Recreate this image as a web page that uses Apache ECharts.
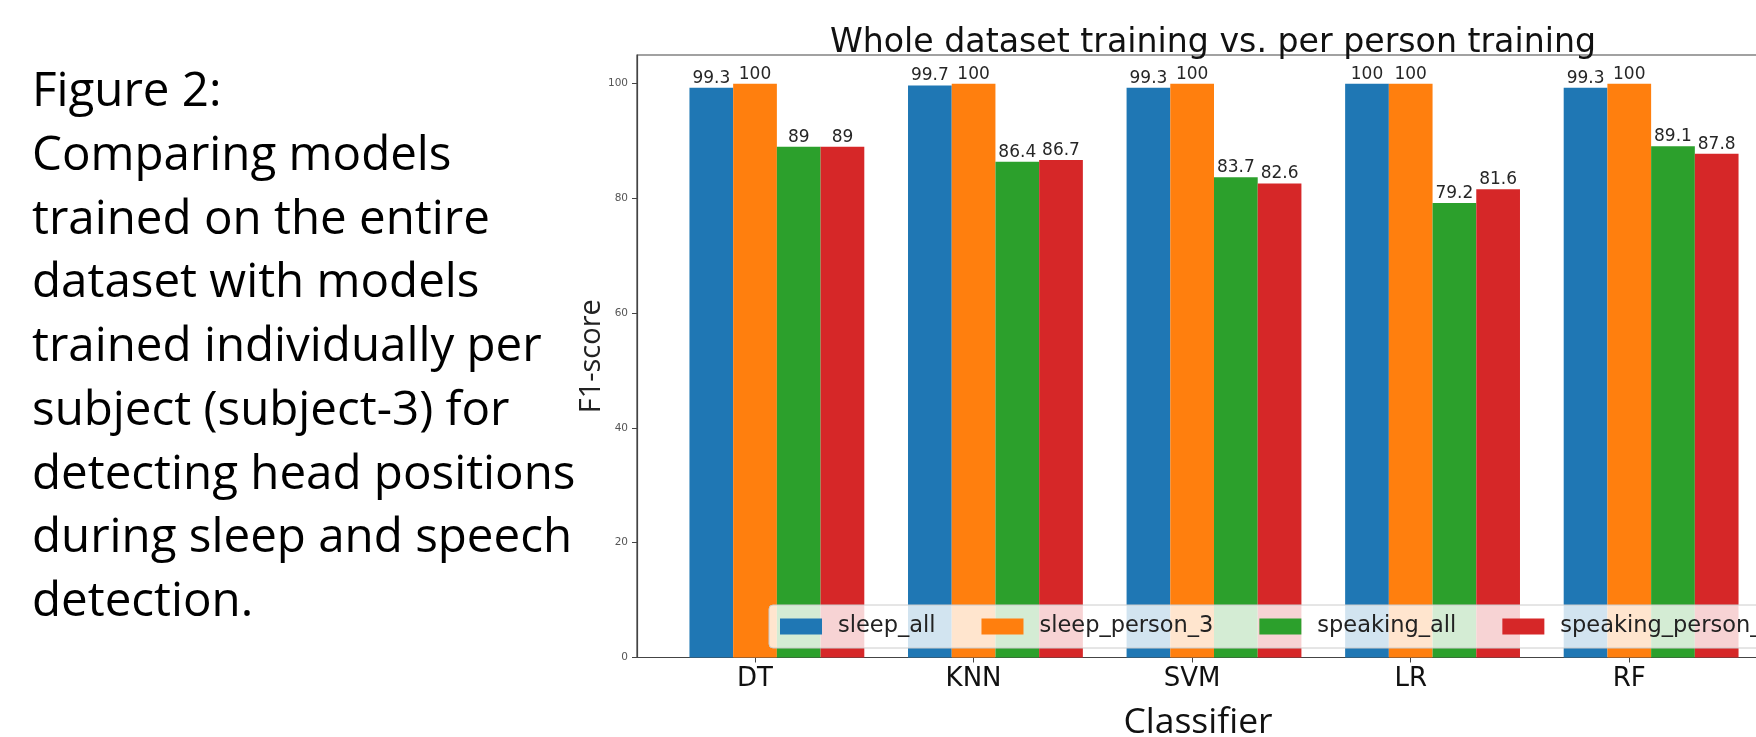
<!DOCTYPE html>
<html>
<head>
<meta charset="utf-8">
<script src="https://cdn.jsdelivr.net/npm/echarts@6/dist/echarts.min.js"></script>
<style>
html, body { margin: 0; padding: 0; background: #fff; }
#chart { width: 1756px; height: 737px; }
</style>
</head>
<body>
<div id="chart"></div>
<script>
// data
var classifiers = ['DT', 'KNN', 'SVM', 'LR', 'RF'];
var sleepAll = [99.3, 99.7, 99.3, 100, 99.3];
var sleepPerson3 = [100, 100, 100, 100, 100];
var speakingAll = [89, 86.4, 83.7, 79.2, 89.1];
var speakingPerson3 = [89, 86.7, 82.6, 81.6, 87.8];
var seriesNames = ['sleep_all', 'sleep_person_3', 'speaking_all', 'speaking_person_3'];
var yTicks = [0, 20, 40, 60, 80, 100];

var colors = ['#1f77b4', '#ff7f0e', '#2ca02c', '#d62728'];
var caption = 'Figure 2:\nComparing models\ntrained on the entire\ndataset with models\ntrained individually per\nsubject (subject-3) for\ndetecting head positions\nduring sleep and speech\ndetection.';

// matplotlib style: each bar is 0.2 wide, tick sits under the 2nd bar
var barW = 0.2;
var tickShift = -barW / 2;
var xTicks = classifiers.map(function (c, i) { return i + tickShift; });

var myChart = echarts.init(document.getElementById('chart'));

var allValues = [sleepAll, sleepPerson3, speakingAll, speakingPerson3];
var series = allValues.map(function (vals, k) {
	return {
		name: seriesNames[k],
		type: 'bar',
		barWidth: (barW * 100) + '%',
		barGap: '0%',
		itemStyle: { color: colors[k] },
		data: classifiers.map(function (c, i) { return [i, vals[i]]; }),
		label: {
			show: true,
			position: 'top',
			distance: 1,
			fontFamily: 'DejaVu Sans',
			fontSize: 17,
			color: '#262626',
			formatter: function (p) { return String(p.value[1]); }
		}
	};
});

var option = {
	animation: false,
	backgroundColor: '#fff',
	title: [
		{
			text: 'Whole dataset training vs. per person training',
			left: 1213,
			top: 27,
			textAlign: 'center',
			padding: 0,
			textStyle: { fontFamily: 'DejaVu Sans', fontSize: 33.2, fontWeight: 'normal', color: '#111' }
		},
		{
			text: caption,
			left: 32,
			top: 61,
			padding: 0,
			textStyle: { fontFamily: 'Open Sans', fontSize: 47.5, fontWeight: 'normal', color: '#000', lineHeight: 63.7 }
		}
	],
	legend: {
		data: seriesNames,
		left: 769,
		top: 605,
		width: 1200,
		orient: 'horizontal',
		icon: 'rect',
		itemWidth: 42,
		itemHeight: 16,
		itemGap: 46,
		padding: [10, 8, 10, 11],
		backgroundColor: 'rgba(255,255,255,0.8)',
		borderColor: '#cccccc',
		borderWidth: 1,
		borderRadius: 4,
		textStyle: { fontFamily: 'DejaVu Sans', fontSize: 22.5, color: '#222', padding: [0, 0, 0, 11] }
	},
	grid: {
		left: 637,
		top: 55,
		right: -35,
		bottom: 79.5,
		outerBoundsMode: 'none',
		containLabel: false,
		show: true,
		borderColor: '#444',
		borderWidth: 1.2
	},
	xAxis: {
		type: 'value',
		min: -0.64,
		max: 4.64,
		name: 'Classifier',
		nameLocation: 'middle',
		nameGap: 47,
		nameTextStyle: { fontFamily: 'Open Sans', fontSize: 35.5, color: '#111', padding: [0, 32, 0, 0] },
		splitLine: { show: false },
		axisLine: { show: true, onZero: false, lineStyle: { color: '#444', width: 1.2 } },
		axisTick: { show: true, length: 5, lineStyle: { color: '#444' }, customValues: xTicks },
		axisLabel: {
			customValues: xTicks,
			margin: 9,
			fontFamily: 'DejaVu Sans',
			fontSize: 26,
			color: '#111',
			formatter: function (v) { return classifiers[Math.round(v - tickShift)]; }
		}
	},
	yAxis: {
		type: 'value',
		min: 0,
		max: 105,
		name: 'F1-score',
		nameLocation: 'middle',
		nameRotate: 90,
		nameGap: 31,
		nameMoveOverlap: false,
		nameTextStyle: { fontFamily: 'Open Sans', fontSize: 29, color: '#222' },
		splitLine: { show: false },
		axisLine: { show: true, onZero: false, lineStyle: { color: '#444', width: 1.2 } },
		axisTick: { show: true, length: 5, lineStyle: { color: '#444' }, customValues: yTicks },
		axisLabel: {
			customValues: yTicks,
			margin: 9,
			fontFamily: 'DejaVu Sans',
			fontSize: 10.5,
			color: '#555'
		}
	},
	series: series
};

myChart.setOption(option);
</script>
</body>
</html>
